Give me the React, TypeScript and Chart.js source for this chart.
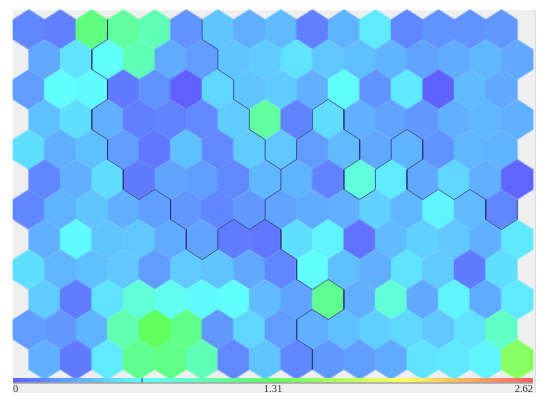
import React, { useEffect, useRef } from "react";
import { Chart, registerables } from "chart.js";

Chart.register(...registerables);

// Node values, one list per row of the hexagonal map
const row0 = [0.16, 0.13, 1.18, 1.05, 0.95, 0.21, 0.41, 0.33, 0.38, 0.13, 0.34, 0.57, 0.16, 0.21, 0.21, 0.23];
const row1 = [0.30, 0.54, 0.66, 0.95, 0.31, 0.25, 0.41, 0.44, 0.54, 0.43, 0.39, 0.34, 0.28, 0.31, 0.36, 0.30];
const row2 = [0.25, 0.66, 0.64, 0.11, 0.21, 0.00, 0.48, 0.41, 0.44, 0.33, 0.69, 0.21, 0.56, 0.01, 0.38, 0.30];
const row3 = [0.39, 0.52, 0.33, 0.13, 0.15, 0.17, 0.44, 1.05, 0.15, 0.51, 0.33, 0.28, 0.23, 0.33, 0.36, 0.33];
const row4 = [0.52, 0.33, 0.39, 0.25, 0.10, 0.39, 0.17, 0.44, 0.43, 0.25, 0.38, 0.30, 0.34, 0.21, 0.36, 0.34];
const row5 = [0.16, 0.33, 0.51, 0.11, 0.28, 0.26, 0.17, 0.36, 0.34, 0.15, 0.79, 0.57, 0.30, 0.48, 0.33, 0.02];
const row6 = [0.16, 0.34, 0.41, 0.33, 0.26, 0.23, 0.16, 0.23, 0.28, 0.31, 0.33, 0.46, 0.36, 0.61, 0.38, 0.16];
const row7 = [0.33, 0.64, 0.41, 0.43, 0.31, 0.28, 0.12, 0.10, 0.52, 0.61, 0.08, 0.38, 0.46, 0.43, 0.33, 0.56];
const row8 = [0.52, 0.36, 0.39, 0.43, 0.25, 0.44, 0.41, 0.30, 0.16, 0.66, 0.39, 0.33, 0.54, 0.44, 0.11, 0.52];
const row9 = [0.44, 0.12, 0.54, 0.82, 0.72, 0.64, 0.66, 0.38, 0.28, 1.11, 0.33, 0.82, 0.30, 0.61, 0.31, 0.57];
const row10 = [0.25, 0.23, 0.34, 0.98, 1.31, 1.15, 0.23, 0.48, 0.25, 0.33, 0.39, 0.46, 0.50, 0.43, 0.54, 0.88];
const row11 = [0.33, 0.11, 0.57, 1.11, 1.15, 0.95, 0.17, 0.41, 0.16, 0.23, 0.26, 0.31, 0.54, 0.56, 0.61, 1.47];
const rows = [row0, row1, row2, row3, row4, row5, row6, row7, row8, row9, row10, row11];

// Colour scale
const scaleMin = 0;
const scaleMax = 2.62;
const scaleTicks = [0, 1.31, 2.62];
const scaleMarker = 0.65;
const stopValues = [0, 0.655, 1.31, 1.965, 2.62];
const stopColors = [
  [96, 96, 255],
  [96, 255, 255],
  [96, 255, 96],
  [255, 255, 96],
  [255, 96, 96],
];

// Cluster boundaries, in map units (column, row)
const boundaryA = [
  [2.5, -0.33], [2.5, 0.33], [2, 0.67], [2, 1.33], [2.5, 1.67], [2.5, 2.33], [2, 2.67], [2, 3.33],
  [2.5, 3.67], [2.5, 4.33], [3, 4.67], [3, 5.33], [3.5, 5.67], [4, 5.33], [4.5, 5.67], [4.5, 6.33],
  [5, 6.67], [5, 7.33], [5.5, 7.67], [6, 7.33], [6, 6.67], [6.5, 6.33], [7, 6.67], [7.5, 6.33],
  [7.5, 5.67], [8, 5.33], [8, 4.67], [7.5, 4.33], [7.5, 3.67], [7, 3.33], [7, 2.67], [6.5, 2.33],
  [6.5, 1.67], [6, 1.33], [6, 0.67], [5.5, 0.33], [5.5, -0.33],
];
const boundaryB = [
  [8, 4.67], [8.5, 4.33], [8.5, 3.67], [9, 3.33], [9, 2.67], [9.5, 2.33], [10, 2.67], [10, 3.33],
  [10.5, 3.67], [10.5, 4.33], [10, 4.67], [10, 5.33], [10.5, 5.67], [11, 5.33], [11, 4.67],
  [11.5, 4.33], [11.5, 3.67], [12, 3.33], [12.5, 3.67], [12.5, 4.33], [12, 4.67], [12, 5.33],
  [12.5, 5.67], [13, 5.33], [13.5, 5.67], [14, 5.33], [14.5, 5.67], [14.5, 6.33], [15, 6.67],
  [15.5, 6.33], [15.5, 5.67],
];
const boundaryC = [
  [7.5, 6.33], [8, 6.67], [8, 7.33], [8.5, 7.67], [8.5, 8.33], [9, 8.67], [9.5, 8.33], [10, 8.67],
  [10, 9.33], [9.5, 9.67], [9, 9.33], [8.5, 9.67], [8.5, 10.33], [9, 10.67], [9, 11.33],
];
const boundaries = [boundaryA, boundaryB, boundaryC];

function colorFor(v: number) {
  let i = 0;
  while (i < stopValues.length - 2 && v > stopValues[i + 1]) i++;
  const t = Math.min(1, Math.max(0, (v - stopValues[i]) / (stopValues[i + 1] - stopValues[i])));
  const c = stopColors[i].map((a, k) => Math.round(a + (stopColors[i + 1][k] - a) * t));
  return `rgb(${c[0]},${c[1]},${c[2]})`;
}

const sprites = new Map<string, HTMLCanvasElement>();
function hexSprite(color: string) {
  const cached = sprites.get(color);
  if (cached) return cached;
  const w = 36;
  const h = 44;
  const halfW = 16.2;
  const halfH = 20.2;
  const c = document.createElement("canvas");
  c.width = w;
  c.height = h;
  const g = c.getContext("2d")!;
  g.translate(w / 2, h / 2);
  g.beginPath();
  g.moveTo(0, -halfH);
  g.lineTo(halfW, -halfH / 2);
  g.lineTo(halfW, halfH / 2);
  g.lineTo(0, halfH);
  g.lineTo(-halfW, halfH / 2);
  g.lineTo(-halfW, -halfH / 2);
  g.closePath();
  g.fillStyle = color;
  g.fill();
  sprites.set(color, c);
  return c;
}

const panelPlugin = {
  id: "panel",
  beforeDraw(chart: any) {
    const { ctx, chartArea } = chart;
    ctx.save();
    ctx.fillStyle = "#efefef";
    ctx.fillRect(chartArea.left, chartArea.top, chartArea.right - chartArea.left + 2, 383);
    ctx.fillStyle = "#dcdcdc";
    ctx.fillRect(chartArea.right + 2, chartArea.top, 1, 383);
    ctx.restore();
  },
  afterDraw(chart: any) {
    const { ctx } = chart;
    const s = chart.scales.v;
    const g = ctx.createLinearGradient(s.left, 0, s.right, 0);
    stopValues.forEach((v, i) => {
      g.addColorStop((v - scaleMin) / (scaleMax - scaleMin), `rgb(${stopColors[i].join(",")})`);
    });
    ctx.save();
    ctx.fillStyle = g;
    ctx.fillRect(s.left, s.top, s.right - s.left, 4.5);
    ctx.fillStyle = "#7f7f7f";
    ctx.fillRect(s.left, s.top + 4.5, s.right - s.left, 1);
    ctx.fillStyle = "#333333";
    ctx.fillRect(s.getPixelForValue(scaleMarker) - 0.5, s.top, 1, 4.5);
    ctx.restore();
  },
};

export default function App() {
  const ref = useRef<HTMLCanvasElement>(null);
  useEffect(() => {
    document.body.style.margin = "0";
    document.body.style.overflow = "hidden";
    const points: any[] = [];
    rows.forEach((row, r) =>
      row.forEach((v, c) => points.push({ x: c + (r % 2 ? 0.5 : 0), y: r, v }))
    );
    const chart = new Chart(ref.current!, {
      type: "scatter",
      data: {
        datasets: [
          ...boundaries.map((b) => ({
            data: b.map(([x, y]) => ({ x, y })),
            showLine: true,
            pointRadius: 0,
            borderColor: "rgba(45,50,115,0.75)",
            borderWidth: 1,
            order: 0,
            clip: false,
          })),
          {
            data: points,
            order: 1,
            clip: false,
            pointRadius: 4,
            pointStyle: (ctx: any) => hexSprite(colorFor(ctx.raw ? ctx.raw.v : 0)),
          },
        ],
      } as any,
      plugins: [panelPlugin],
      options: {
        responsive: false,
        animation: false,
        events: [],
        layout: { padding: { left: 13, right: 17, top: 10, bottom: 0 } },
        plugins: { legend: { display: false }, tooltip: { enabled: false } },
        scales: {
          x: { type: "linear", min: -0.5, max: 16, display: false },
          y: { type: "linear", min: -0.65, max: 11.617, reverse: true, display: false },
          v: {
            type: "linear",
            axis: "x",
            position: "bottom",
            min: scaleMin,
            max: scaleMax,
            grid: { display: false, drawTicks: false },
            border: { display: false },
            afterBuildTicks(axis: any) {
              axis.ticks = scaleTicks.map((value) => ({ value }));
            },
            afterFit(axis: any) {
              axis.height = 26;
            },
            ticks: {
              align: "inner",
              autoSkip: false,
              maxRotation: 0,
              padding: 5,
              color: "#333333",
              font: { family: "'Liberation Serif'", size: 10.5 },
              callback: (v: any) => String(v),
            },
          },
        },
      } as any,
    });
    return () => chart.destroy();
  }, []);
  return (
    <div style={{ position: "absolute", left: 0, top: 0, width: 550, height: 404 }}>
      <canvas ref={ref} width={550} height={404} style={{ display: "block" }} />
    </div>
  );
}
